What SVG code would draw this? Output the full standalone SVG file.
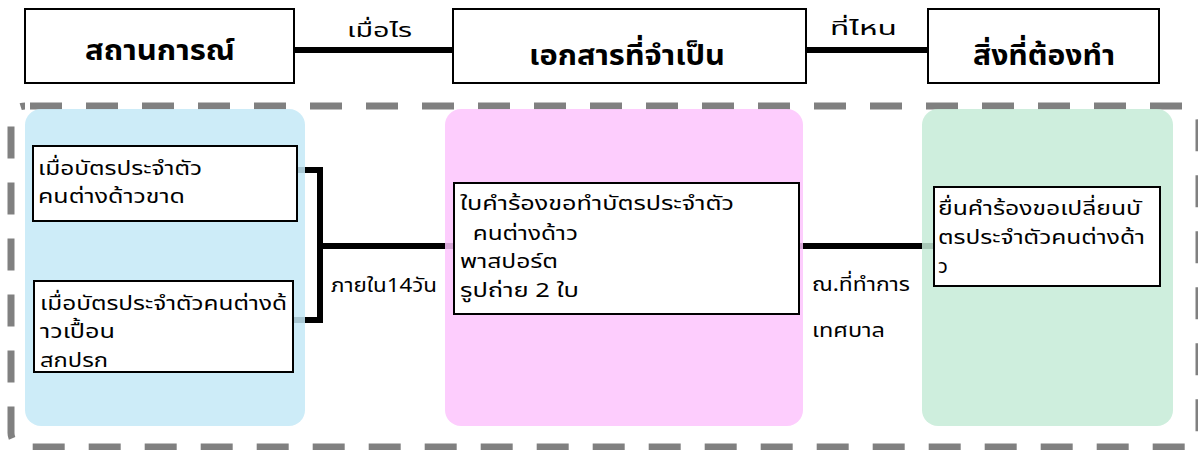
<svg xmlns="http://www.w3.org/2000/svg" width="1198" height="450" viewBox="0 0 1198 450">
<style>
text{font-family:Tahoma,"Noto Sans Thai","DejaVu Sans",sans-serif;fill:#000;}
.t{font-size:20px;white-space:pre;}
.h{font-size:29px;font-weight:bold;}
.box{fill:#fff;stroke:#000;stroke-width:2;}
.line{fill:none;stroke:#000;stroke-width:6;}
.panel{stroke:none;}
</style>
<rect x="11" y="106" width="1188" height="341" rx="14" fill="none" stroke="#808080" stroke-width="7" stroke-dasharray="32 24" stroke-dashoffset="51"/>
<g id="connectors">
<line class="line" x1="294" y1="50" x2="453" y2="50"/>
<line class="line" x1="806" y1="50" x2="928" y2="50"/>
<path class="line" d="M297 170 H320 V320 H293"/>
<line class="line" x1="320" y1="246" x2="454" y2="246"/>
<line class="line" x1="799" y1="246" x2="934" y2="246"/>
<text class="t" x="347" y="37" textLength="65" lengthAdjust="spacingAndGlyphs">เมื่อไร</text>
<text class="t" x="830" y="35" textLength="67" lengthAdjust="spacingAndGlyphs">ที่ไหน</text>
<text class="t" x="331" y="292" textLength="106" lengthAdjust="spacingAndGlyphs">ภายใน14วัน</text>
<text class="t" x="812" y="291" textLength="98" lengthAdjust="spacingAndGlyphs">ณ.ที่ทำการ</text>
<text class="t" x="812" y="337" textLength="73" lengthAdjust="spacingAndGlyphs">เทศบาล</text>
</g>
<g id="panels">
<rect class="panel" x="25" y="109" width="280" height="317" rx="16" fill="#c4e9f7" fill-opacity="0.85"/>
<rect class="panel" x="445" y="109" width="358" height="317" rx="16" fill="#fdc4fd" fill-opacity="0.85"/>
<rect class="panel" x="922" y="109" width="251" height="317" rx="16" fill="#c6ebd7" fill-opacity="0.85"/>
</g>
<g id="node-situation">
<rect class="box" x="25" y="9" width="269" height="74"/>
<text class="h" x="85" y="60" textLength="150" lengthAdjust="spacingAndGlyphs">สถานการณ์</text>
</g>
<g id="node-documents">
<rect class="box" x="453" y="9" width="353" height="74"/>
<text class="h" x="529" y="65" textLength="196" lengthAdjust="spacingAndGlyphs">เอกสารที่จำเป็น</text>
</g>
<g id="node-todo">
<rect class="box" x="928" y="9" width="231" height="74"/>
<text class="h" x="973" y="65" textLength="142" lengthAdjust="spacingAndGlyphs">สิ่งที่ต้องทำ</text>
</g>
<g id="node-lost">
<rect class="box" x="33" y="146" width="264" height="75"/>
<text class="t" x="38" y="175" textLength="164" lengthAdjust="spacingAndGlyphs">เมื่อบัตรประจำตัว</text>
<text class="t" x="38" y="203" textLength="147" lengthAdjust="spacingAndGlyphs">คนต่างด้าวขาด</text>
</g>
<g id="node-damaged">
<rect class="box" x="34" y="281" width="259" height="91"/>
<text class="t" x="40" y="310" textLength="247" lengthAdjust="spacingAndGlyphs">เมื่อบัตรประจำตัวคนต่างด้</text>
<text class="t" x="40" y="338" textLength="75" lengthAdjust="spacingAndGlyphs">าวเปื้อน</text>
<text class="t" x="40" y="367" textLength="68" lengthAdjust="spacingAndGlyphs">สกปรก</text>
</g>
<g id="node-docs-list">
<rect class="box" x="454" y="183" width="345" height="131"/>
<text class="t" x="460" y="210" textLength="274" lengthAdjust="spacingAndGlyphs">ใบคำร้องขอทำบัตรประจำตัว</text>
<text class="t" x="460" y="240" textLength="118" lengthAdjust="spacingAndGlyphs">  คนต่างด้าว</text>
<text class="t" x="460" y="268" textLength="98" lengthAdjust="spacingAndGlyphs">พาสปอร์ต</text>
<text class="t" x="460" y="297" textLength="119" lengthAdjust="spacingAndGlyphs">รูปถ่าย 2 ใบ</text>
</g>
<g id="node-action">
<rect class="box" x="934" y="187" width="226" height="99"/>
<text class="t" x="938" y="215" textLength="203" lengthAdjust="spacingAndGlyphs">ยื่นคำร้องขอเปลี่ยนบั</text>
<text class="t" x="938" y="244" textLength="207" lengthAdjust="spacingAndGlyphs">ตรประจำตัวคนต่างด้า</text>
<text class="t" x="938" y="273">ว</text>
</g>
</svg>
